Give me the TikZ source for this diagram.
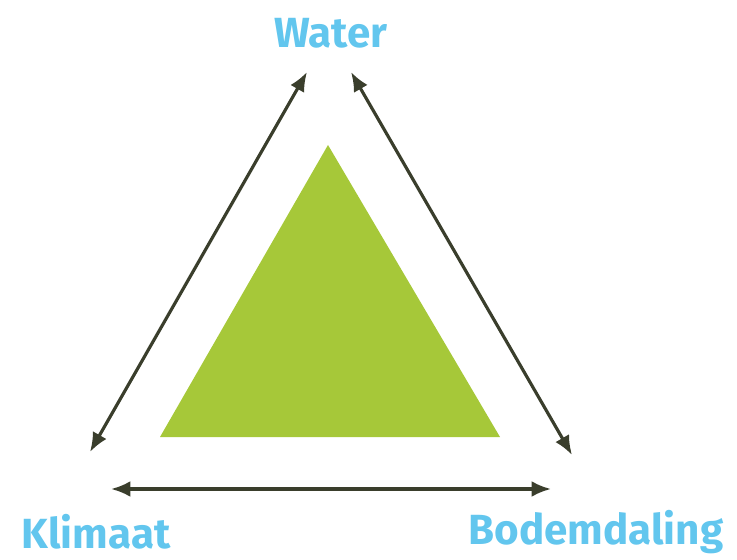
\documentclass[tikz,border=0pt]{standalone}
\usepackage{fontspec}
\setmainfont{Fira Sans}
\usetikzlibrary{arrows.meta}
\definecolor{bleu}{RGB}{98,198,238}
\definecolor{vert}{RGB}{166,200,57}
\definecolor{fleche}{RGB}{58,62,44}
\tikzset{
	mot/.style={text=bleu,font=\bfseries\fontsize{24}{28}\selectfont,inner sep=0pt},
	lien/.style={fleche,line width=1.8pt,{Latex[length=11pt,width=9pt]}-{Latex[length=11pt,width=9pt]}}
}
\begin{document}
\begin{tikzpicture}[x=0.02cm,y=-0.02cm]
		\useasboundingbox (0,0) rectangle (737,560);
		\fill[vert] (328,145)--(160,437)--(500,437)--cycle;%triangle
		
		\node[mot] (water) at (331,33) {Water};
		\node[mot] (klimaat) at (96,532) {Klimaat};
		\node[mot] (bodem) at (596,532) {Bodemdaling};
		
		\coordinate (wg) at (307,72);
		\coordinate (wd) at (351,72);
		\coordinate (kh) at (90,452);
		\coordinate (kd) at (111,489);
		\coordinate (bh) at (572,455);
		\coordinate (bg) at (551,489);
		
		\draw[lien] (kh) -- (wg);
		\draw[lien] (wd) -- (bh);
		\draw[lien] (kd) -- (bg);
		
	\end{tikzpicture}
\end{document}
